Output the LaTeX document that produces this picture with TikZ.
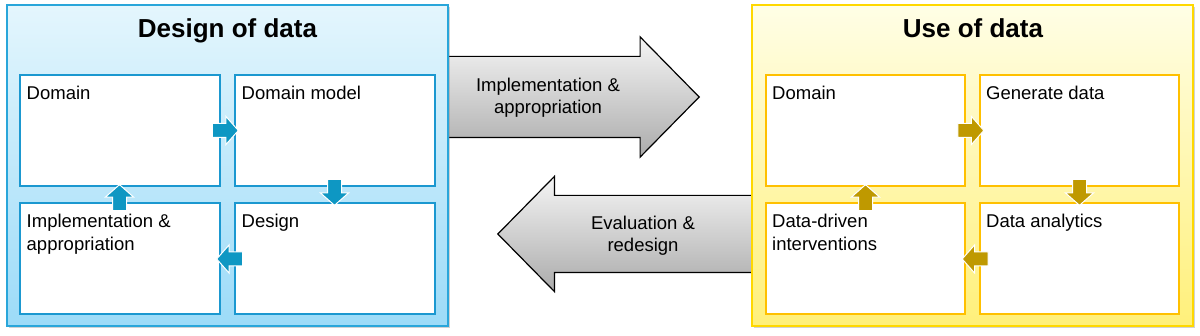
\documentclass[tikz,border=0pt]{standalone}
\usepackage{fontspec}
\setmainfont{Liberation Sans}
\usetikzlibrary{shapes.arrows,shadows,calc}
\definecolor{bluepanel}{HTML}{29A6DA}
\definecolor{bluetop}{HTML}{E4F6FD}
\definecolor{bluebot}{HTML}{9CDBF8}
\definecolor{bluebox}{HTML}{1B98D0}
\definecolor{bluearrow}{HTML}{0E97C3}
\definecolor{yelpanel}{HTML}{FFD800}
\definecolor{yeltop}{HTML}{FFFEE6}
\definecolor{yelbot}{HTML}{FFF07A}
\definecolor{yelbox}{HTML}{FFC000}
\definecolor{goldarrow}{HTML}{BF9900}
\tikzset{
  panel/.style={draw, line width=2pt, minimum width=441, minimum height=321, inner sep=0,
    drop shadow={shadow xshift=2pt, shadow yshift=-2pt, opacity=0.35}},
  ibox/.style={draw, line width=2pt, fill=white, minimum width=200, minimum height=111, inner sep=0},
  boxtext/.style={anchor=north west, inner sep=0, align=left,
    font=\fontsize{18.5}{22.5}\selectfont},
  titletext/.style={anchor=base, inner sep=0, font=\fontsize{26}{30}\selectfont\bfseries},
  smallarrow/.style={single arrow, draw=white, line width=1pt, inner sep=6.5, anchor=tip,
    minimum height=26, single arrow head extend=7, single arrow tip angle=97},
  bigarrow/.style={single arrow, draw=black, line width=1.2pt, anchor=tip,
    top color=black!4, bottom color=black!33, single arrow tip angle=91},
  arrowtext/.style={align=center, inner sep=0, font=\fontsize{18.5}{22}\selectfont},
}
\begin{document}
\begin{tikzpicture}[x=1pt,y=-1pt]
\useasboundingbox[fill=white] (0,0) rectangle (1200,336);
% big arrows (behind panels)
\node[bigarrow, inner sep=40, single arrow head extend=19.5, minimum height=256] (ra) at (700,97) {};
\node[bigarrow, inner sep=38, single arrow head extend=19, minimum height=263, shape border rotate=180] (la) at (497,234) {};
% panels
\node[panel, draw=bluepanel, top color=bluetop, bottom color=bluebot] (lp) at (227.5,165.5) {};
\node[panel, draw=yelpanel, top color=yeltop, bottom color=yelbot] (rp) at (972.5,165.5) {};
% arrow texts
\node[arrowtext] (rat) at (548,97.7) {Implementation \&\\appropriation};
\node[arrowtext] (lat) at (643,236) {Evaluation \&\\redesign};
% titles
\node[titletext] (lt) at (227.5,37.5) {Design of data};
\node[titletext] (rt) at (973,37.5) {Use of data};
% left inner boxes
\node[ibox, draw=bluebox] (a1) at (119.5,130.5) {};
\node[ibox, draw=bluebox] (a2) at (334.5,130.5) {};
\node[ibox, draw=bluebox] (a3) at (334.5,259) {};
\node[ibox, draw=bluebox] (a4) at (119.5,259) {};
\node[boxtext] (a1t) at ($(a1.north west)+(8,11.5)$) {Domain};
\node[boxtext] (a2t) at ($(a2.north west)+(8,11.5)$) {Domain model};
\node[boxtext] (a3t) at ($(a3.north west)+(8,11.5)$) {Design};
\node[boxtext] (a4t) at ($(a4.north west)+(8,11.5)$) {Implementation \&\\appropriation};
% left small arrows
\node[smallarrow, fill=bluearrow] (a12) at ($(a2.west)+(5.5,0)$) {};
\node[smallarrow, fill=bluearrow, shape border rotate=270] (a23) at ($(a3.north)+(0,3.5)$) {};
\node[smallarrow, fill=bluearrow, shape border rotate=180] (a34) at ($(a4.east)+(-4.5,0)$) {};
\node[smallarrow, fill=bluearrow, shape border rotate=90] (a41) at ($(a1.south)+(0,-3)$) {};
% right inner boxes
\node[ibox, draw=yelbox, minimum width=199] (b1) at (865.5,130.5) {};
\node[ibox, draw=yelbox, minimum width=199] (b2) at (1079.5,130.5) {};
\node[ibox, draw=yelbox, minimum width=199] (b3) at (1079.5,259) {};
\node[ibox, draw=yelbox, minimum width=199] (b4) at (865.5,259) {};
\node[boxtext] (b1t) at ($(b1.north west)+(7,11.5)$) {Domain};
\node[boxtext] (b2t) at ($(b2.north west)+(7,11.5)$) {Generate data};
\node[boxtext] (b3t) at ($(b3.north west)+(7,11.5)$) {Data analytics};
\node[boxtext] (b4t) at ($(b4.north west)+(7,11.5)$) {Data-driven\\interventions};
% right small arrows
\node[smallarrow, fill=goldarrow] (b12) at ($(b2.west)+(5.5,0)$) {};
\node[smallarrow, fill=goldarrow, shape border rotate=270] (b23) at ($(b3.north)+(0,3.5)$) {};
\node[smallarrow, fill=goldarrow, shape border rotate=180] (b34) at ($(b4.east)+(-4.5,0)$) {};
\node[smallarrow, fill=goldarrow, shape border rotate=90] (b41) at ($(b1.south)+(0,-3)$) {};
\end{tikzpicture}
\end{document}
